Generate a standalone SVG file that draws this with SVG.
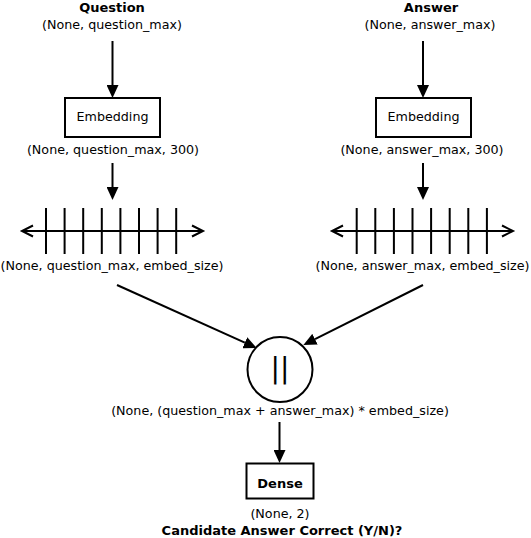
<svg xmlns="http://www.w3.org/2000/svg" width="531" height="538" viewBox="0 0 531 538">
<style>
text{font-family:"DejaVu Sans","Liberation Sans",sans-serif;font-size:12.7px;fill:#000;text-anchor:middle}
.b{font-weight:bold;font-size:13px}
.box{fill:#fff;stroke:#000;stroke-width:2}
.edge{stroke:#000;stroke-width:2;fill:none}
.nl{stroke:#000;stroke-width:2;fill:none}
</style>
<defs>
<marker id="ah" viewBox="0 -6 13 12" markerWidth="13" markerHeight="12" refX="0" refY="0" orient="auto" markerUnits="userSpaceOnUse">
<path d="M0,-6 L13,0 L0,6 z" fill="#000"/>
</marker>
</defs>
<rect width="531" height="538" fill="#fff"/>
<g id="question">
<text class="b" x="112" y="12">Question</text>
<text x="112" y="29">(None, question_max)</text>
</g>
<g id="answer">
<text class="b" x="431" y="12">Answer</text>
<text x="430" y="29">(None, answer_max)</text>
</g>
<g id="embedding-q">
<rect class="box" x="65" y="98" width="95" height="39"/>
<text x="112.5" y="121">Embedding</text>
<text x="113" y="154">(None, question_max, 300)</text>
</g>
<g id="embedding-a">
<rect class="box" x="376" y="98" width="95" height="39"/>
<text x="423.5" y="121">Embedding</text>
<text x="422" y="154">(None, answer_max, 300)</text>
</g>
<g id="vector-q">
<path class="nl" d="M22,231 H203 M33,225.5 L22,231 L33,236.5 M192,225.5 L203,231 L192,236.5"/>
<path class="nl" d="M46,208 V254 M64.6,208 V254 M83.2,208 V254 M101.8,208 V254 M120.4,208 V254 M139,208 V254 M157.6,208 V254 M176.2,208 V254"/>
<text x="112" y="270">(None, question_max, embed_size)</text>
</g>
<g id="vector-a">
<path class="nl" d="M332,231 H513 M343,225.5 L332,231 L343,236.5 M502,225.5 L513,231 L502,236.5"/>
<path class="nl" d="M356.7,208 V254 M375.3,208 V254 M393.9,208 V254 M412.5,208 V254 M431.1,208 V254 M449.7,208 V254 M468.3,208 V254 M486.9,208 V254"/>
<text x="422.5" y="270">(None, answer_max, embed_size)</text>
</g>
<g id="concat">
<circle cx="280" cy="369.5" r="32.5" fill="#fff" stroke="#000" stroke-width="2"/>
<text x="280" y="378" style="font-size:28px">||</text>
<text x="280" y="415">(None, (question_max + answer_max) * embed_size)</text>
</g>
<g id="dense">
<rect class="box" x="246.5" y="463.5" width="67" height="35"/>
<text class="b" x="280" y="488">Dense</text>
<text x="280" y="518">(None, 2)</text>
<text class="b" x="282" y="534.5">Candidate Answer Correct (Y/N)?</text>
</g>
<g id="connectors">
<line class="edge" x1="112.5" y1="41" x2="112.5" y2="85" marker-end="url(#ah)"/>
<line class="edge" x1="423" y1="41" x2="423" y2="85" marker-end="url(#ah)"/>
<line class="edge" x1="112.5" y1="163" x2="112.5" y2="187" marker-end="url(#ah)"/>
<line class="edge" x1="423" y1="163" x2="423" y2="187" marker-end="url(#ah)"/>
<line class="edge" x1="117" y1="285" x2="244.8" y2="342.7" marker-end="url(#ah)"/>
<line class="edge" x1="423" y1="285" x2="315" y2="339.2" marker-end="url(#ah)"/>
<line class="edge" x1="279.5" y1="422" x2="279.5" y2="450" marker-end="url(#ah)"/>
</g>
</svg>
